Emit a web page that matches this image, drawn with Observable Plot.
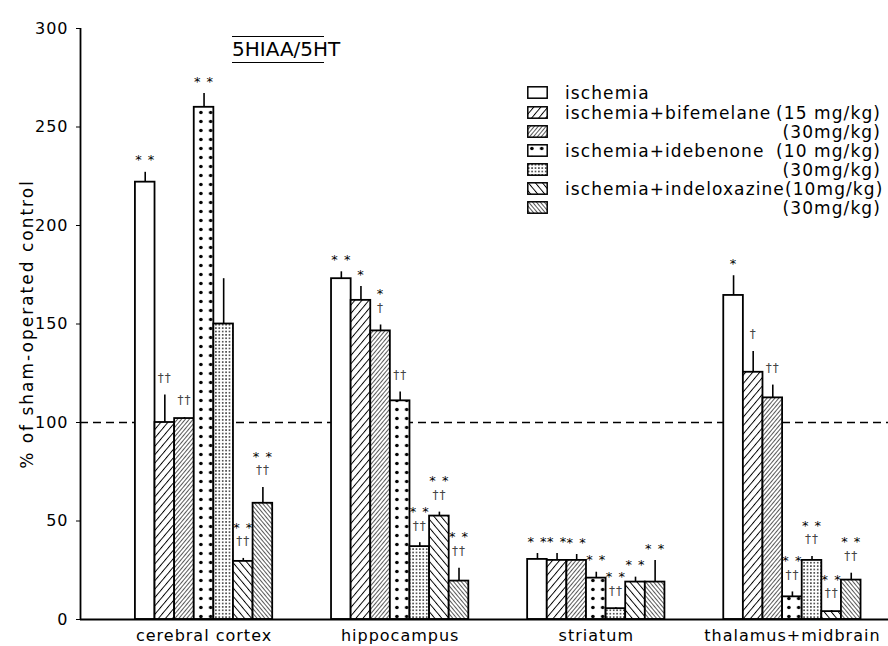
<!DOCTYPE html>
<html>
<head>
<meta charset="utf-8">
<script src="https://cdn.jsdelivr.net/npm/d3@7"></script>
<script src="https://cdn.jsdelivr.net/npm/@observablehq/plot@0.6"></script>
<style>
  html, body { margin: 0; padding: 0; background: #fff; }
  #wrap { position: relative; width: 888px; height: 646px; font-family: "DejaVu Sans", sans-serif; color: #000; }
  #wrap svg text { letter-spacing: 1px; }
  #wrap svg g[aria-label="y-axis label"] text { letter-spacing: 2px; font-size: 17px; }
  #title { position: absolute; left: 232px; top: 36px; width: 92px; border-top: 1.5px solid #000; border-bottom: 1.5px solid #000;
           text-align: center; font-size: 20px; line-height: 25px; letter-spacing: 0px; }
  #legend { position: absolute; left: 527px; top: 82px; width: 354px; font-size: 17px; letter-spacing: 1.1px; }
  #legend .row { display: flex; align-items: center; height: 19px; }
  #legend .row:first-child { height: 21px; }
  #legend .sw { width: 21px; height: 13px; margin-right: 17px; flex: none; }
  #legend .dose { margin-left: auto; }
</style>
</head>
<body>
<svg width="0" height="0" style="position:absolute">
  <defs>
    <pattern id="pBif15" width="5.4" height="5.4" patternUnits="userSpaceOnUse" patternTransform="rotate(40)">
      <rect width="5.4" height="5.4" fill="#fff"/><line x1="0" y1="0" x2="0" y2="5.4" stroke="#000" stroke-width="1.9"/>
    </pattern>
    <pattern id="pBif30" width="3" height="3" patternUnits="userSpaceOnUse" patternTransform="rotate(40)">
      <rect width="3" height="3" fill="#fff"/><line x1="0" y1="0" x2="0" y2="3" stroke="#000" stroke-width="1.3"/>
    </pattern>
    <pattern id="pIde10" width="9.8" height="9" patternUnits="userSpaceOnUse">
      <rect width="9.8" height="9" fill="#fff"/><circle cx="4.9" cy="4.5" r="1.8" fill="#000"/>
    </pattern>
    <pattern id="pIde30" width="3.4" height="3.4" patternUnits="userSpaceOnUse">
      <rect width="3.4" height="3.4" fill="#fff"/><circle cx="1.7" cy="1.7" r="0.75" fill="#000"/>
    </pattern>
    <pattern id="pInd10" width="5.4" height="5.4" patternUnits="userSpaceOnUse" patternTransform="rotate(-40)">
      <rect width="5.4" height="5.4" fill="#fff"/><line x1="0" y1="0" x2="0" y2="5.4" stroke="#000" stroke-width="1.9"/>
    </pattern>
    <pattern id="pInd30" width="3" height="3" patternUnits="userSpaceOnUse" patternTransform="rotate(-40)">
      <rect width="3" height="3" fill="#fff"/><line x1="0" y1="0" x2="0" y2="3" stroke="#000" stroke-width="1.3"/>
    </pattern>
  </defs>
</svg>
<div id="wrap">
  <div id="title">5HIAA/5HT</div>
  <div id="legend"></div>
</div>
<script>
// ---- data ----
const regions = ["cerebral cortex", "hippocampus", "striatum", "thalamus+midbrain"];
const treatments = [
  "ischemia",
  "ischemia+bifemelane (15 mg/kg)",
  "ischemia+bifemelane (30 mg/kg)",
  "ischemia+idebenone (10 mg/kg)",
  "ischemia+idebenone (30 mg/kg)",
  "ischemia+indeloxazine (10 mg/kg)",
  "ischemia+indeloxazine (30 mg/kg)"
];
const cortex         = [222, 100, 102, 260, 150, 29.5, 59];
const cortexErr      = [227, 114, 102.5, 267, 173, 31, 67];
const hippocampus    = [173, 162, 146.5, 111, 37, 52.5, 19.5];
const hippocampusErr = [176.5, 169, 149.5, 115.5, 39, 54.5, 26];
const striatum       = [30.5, 30, 30, 21, 5.5, 19, 19];
const striatumErr    = [33.5, 33.5, 33, 24, 6, 21.5, 30];
const thalamus       = [164.5, 125.5, 112.5, 11.5, 30, 4, 20];
const thalamusErr    = [174.5, 136, 119, 14, 32, 4.5, 23.5];

const cortexStars        = ["**", "", "", "**", "", "**", "**"];
const cortexDaggers      = ["", "††", "††", "", "", "††", "††"];
const hippocampusStars   = ["**", "*", "*", "", "**", "**", "**"];
const hippocampusDaggers = ["", "", "†", "††", "††", "††", "††"];
const striatumStars      = ["**", "**", "**", "**", "**", "**", "**"];
const striatumDaggers    = ["", "", "", "", "††", "", ""];
const thalamusStars      = ["*", "", "", "**", "**", "**", "**"];
const thalamusDaggers    = ["", "†", "††", "††", "††", "††", "††"];

const yTicks = [0, 50, 100, 150, 200, 250, 300];
const legendNames = ["ischemia", "ischemia+bifemelane", "", "ischemia+idebenone", "", "ischemia+indeloxazine", ""];
const legendDoses = ["", "(15 mg/kg)", "(30mg/kg)", "(10 mg/kg)", "(30mg/kg)", "(10mg/kg)", "(30mg/kg)"];

// ---- styles ----
const patterns = ["#fff", "url(#pBif15)", "url(#pBif30)", "url(#pIde10)", "url(#pIde30)", "url(#pInd10)", "url(#pInd30)"];

// ---- table ----
const values = [cortex, hippocampus, striatum, thalamus];
const errs = [cortexErr, hippocampusErr, striatumErr, thalamusErr];
const stars = [cortexStars, hippocampusStars, striatumStars, thalamusStars];
const daggers = [cortexDaggers, hippocampusDaggers, striatumDaggers, thalamusDaggers];
const groupStep = 10;   // slots per region (7 bars + gap)
const rows = [];
regions.forEach((r, gi) => treatments.forEach((t, si) => rows.push({
  region: r, treatment: t, gi, si,
  pos: gi * groupStep + si,
  value: values[gi][si], err: errs[gi][si],
  star: stars[gi][si], dagger: daggers[gi][si]
})));
const xDomain = [-2.8, 38.4];
const spaced = s => s.split("").join(" ");

const chart = Plot.plot({
  width: 888, height: 646,
  marginLeft: 80, marginRight: 0, marginTop: 28, marginBottom: 27,
  style: {fontFamily: "DejaVu Sans, sans-serif", fontSize: "16px", color: "#000", background: "#fff", overflow: "visible"},
  x: {domain: xDomain, axis: null},
  y: {domain: [0, 300]},
  color: {domain: treatments, range: patterns},
  marks: [
    Plot.ruleY([100], {stroke: "#000", strokeWidth: 1.6, strokeDasharray: "8,5"}),
    Plot.rectY(rows, {x1: "pos", x2: d => d.pos + 1, y1: 0, y2: "value", fill: "treatment", stroke: "#000", strokeWidth: 1.8}),
    Plot.ruleX(rows, {x: d => d.pos + 0.5, y1: "value", y2: "err", stroke: "#000", strokeWidth: 1.6}),
    Plot.text(rows.filter(d => d.dagger), {x: d => d.pos + 0.5, y: "err", text: "dagger", dy: -17, lineAnchor: "middle", fontSize: 12, fill: "#444"}),
    Plot.text(rows.filter(d => d.star && !d.dagger), {x: d => d.pos + 0.5, y: "err", text: d => spaced(d.star), dy: -12, lineAnchor: "middle", fontSize: 13, fill: "#000"}),
    Plot.text(rows.filter(d => d.star && d.dagger), {x: d => d.pos + 0.5, y: "err", text: d => spaced(d.star), dy: -31, lineAnchor: "middle", fontSize: 13, fill: "#000"}),
    Plot.ruleY([0], {stroke: "#000", strokeWidth: 1.8}),
    Plot.ruleX([xDomain[0]], {y1: 0, y2: 300, stroke: "#000", strokeWidth: 1.8}),
    Plot.axisY(yTicks, {tickSize: 4, tickPadding: 8, fontSize: 16, label: "% of sham-operated control", labelAnchor: "center", labelOffset: 60, labelArrow: "none"}),
    Plot.text(regions, {x: (d, i) => i * groupStep + 3.5, y: 0, text: d => d, dy: 16, lineAnchor: "middle", fontSize: 16})
  ]
});
document.getElementById("wrap").appendChild(chart);

// legend
const legend = document.getElementById("legend");
treatments.forEach((t, i) => {
  const row = document.createElement("div");
  row.className = "row";
  row.innerHTML = `<svg class="sw" width="21" height="13"><rect x="0.8" y="0.8" width="19.4" height="11.4" fill="${patterns[i]}" stroke="#000" stroke-width="1.5"/></svg>` +
    `<span class="name">${legendNames[i]}</span><span class="dose">${legendDoses[i]}</span>`;
  legend.appendChild(row);
});
</script>
</body>
</html>
